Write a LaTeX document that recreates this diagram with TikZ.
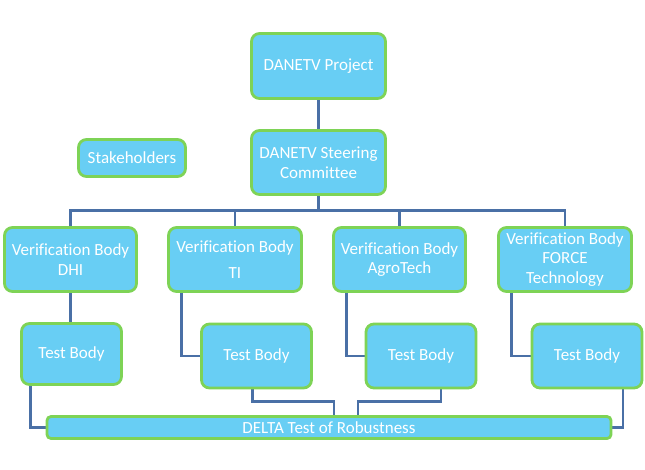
\documentclass[tikz,border=0pt]{standalone}
\usepackage{fontspec}
\setmainfont[Ligatures={NoCommon}]{Carlito}
\usetikzlibrary{backgrounds}
\definecolor{boxblue}{RGB}{104,206,244}
\definecolor{boxgreen}{RGB}{126,211,86}
\definecolor{linkblue}{RGB}{74,112,166}
\begin{document}
\begin{tikzpicture}[x=1pt,y=-1pt,
  box/.style={draw=boxgreen, line width=2.8pt, fill=boxblue, rounded corners=8pt,
    text=white, font=\fontsize{17}{19.5}\selectfont, align=center, inner sep=0pt},
  link/.style={draw=linkblue, line width=2.8pt}]
\useasboundingbox (0,0) rectangle (645,470);
\node[box, minimum width=134, minimum height=65] (proj) at (318.5,66) {DANETV Project};
\node[box, minimum width=134, minimum height=64] (steer) at (318.5,162.5) {DANETV Steering\\Committee};
\node[box, minimum width=107, minimum height=37] (stake) at (132,158) {Stakeholders};
\node[box, minimum width=132, minimum height=64] (vbdhi) at (70.5,259.5) {Verification Body\\DHI};
\node[box, minimum width=133, minimum height=64] (vbti) at (235,259.5) {Verification Body\\[7pt]TI};
\node[box, minimum width=132, minimum height=64] (vbagro) at (399.5,259.5) {Verification Body\\AgroTech};
\node[box, minimum width=133, minimum height=64] (vbforce) at (565,259.5) {Verification Body\\FORCE\\Technology};
\node[box, minimum width=100, minimum height=61] (tb1) at (71.5,354) {Test Body};
\node[box, minimum width=110, minimum height=64] (tb2) at (256.5,356) {Test Body};
\node[box, minimum width=110, minimum height=64] (tb3) at (421,356) {Test Body};
\node[box, minimum width=110, minimum height=64] (tb4) at (587,356) {Test Body};
\node[box, minimum width=564, minimum height=22, rounded corners=4pt] (delta) at (329,427.5) {DELTA Test of Robustness};
\begin{pgfonlayer}{background}
\draw[link] (proj.south) -- (steer.north);
\draw[link] (steer.south) -- ++(0,15) coordinate (bus);
\draw[link] (vbdhi.north) |- (bus);
\draw[link] (vbti.north) |- (bus);
\draw[link] (vbagro.north) |- (bus);
\draw[link] (vbforce.north) |- (bus);
\draw[link] (vbdhi.south) -- (vbdhi.south |- tb1.north);
\draw[link] ([xshift=14pt]vbti.south west) |- (tb2.west);
\draw[link] ([xshift=14pt]vbagro.south west) |- (tb3.west);
\draw[link] ([xshift=14pt]vbforce.south west) |- (tb4.west);
\draw[link] ([xshift=10pt]tb1.south west) |- (delta.west);
\draw[link] ([xshift=-4pt]tb2.south) -- ++(0,12) -| ([xshift=5pt]delta.north);
\draw[link] ([xshift=20pt]tb3.south) -- ++(0,12) -| ([xshift=29pt]delta.north);
\draw[link] ([xshift=36pt]tb4.south) |- (delta.east);
\end{pgfonlayer}
\end{tikzpicture}
\end{document}
